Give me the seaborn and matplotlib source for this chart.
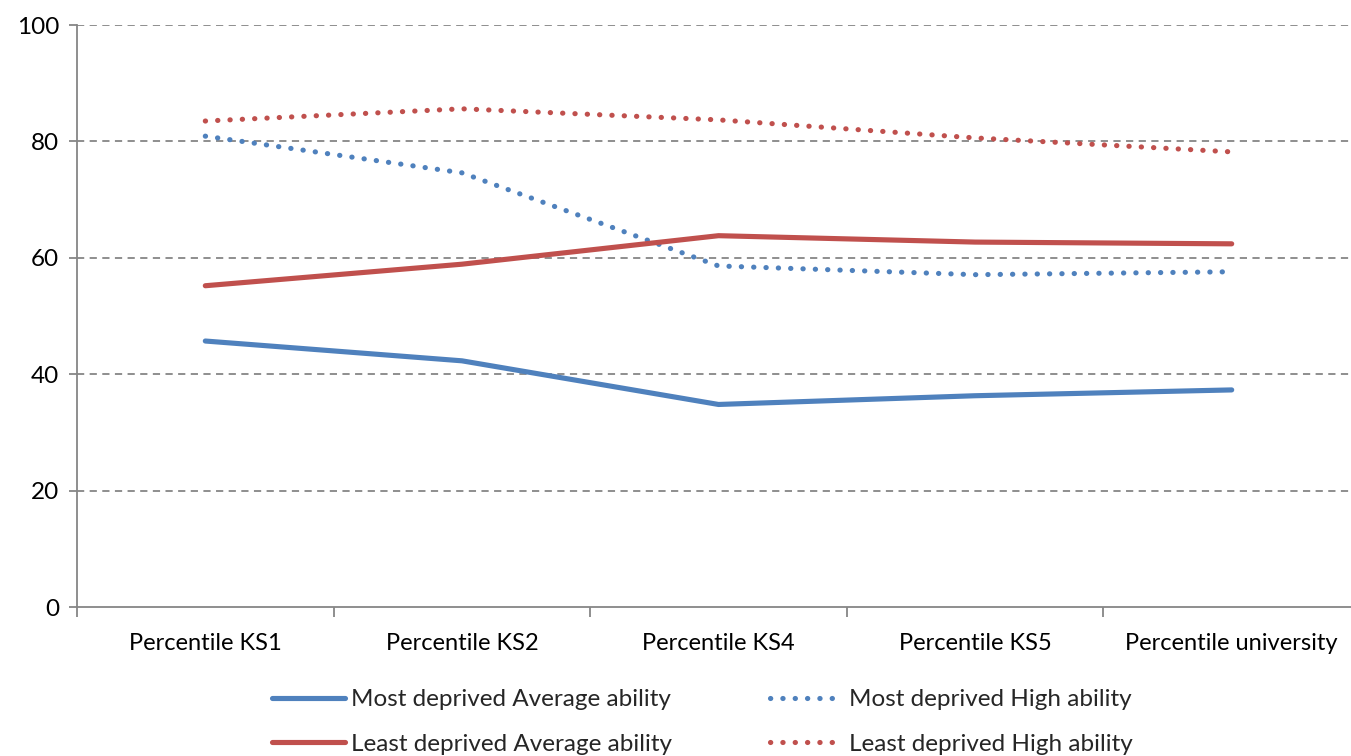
import matplotlib
matplotlib.use("Agg")
import matplotlib.pyplot as plt
import pandas as pd
import seaborn as sns

categories = ["Percentile KS1", "Percentile KS2", "Percentile KS4",
              "Percentile KS5", "Percentile university"]

most_avg = [45.7, 42.3, 34.8, 36.3, 37.3]
least_avg = [55.2, 58.9, 63.8, 62.7, 62.4]
most_high = [80.9, 74.6, 58.6, 57.1, 57.6]
least_high = [83.5, 85.6, 83.7, 80.6, 78.2]

series_names = ["Most deprived Average ability", "Most deprived High ability",
                "Least deprived Average ability", "Least deprived High ability"]
series_values = [most_avg, most_high, least_avg, least_high]

BLUE = "#4F81BD"
RED = "#C0504D"
GRID = "#868686"
styles = {
    "Most deprived Average ability": (BLUE, "-"),
    "Most deprived High ability": (BLUE, (0, (0.05, 2.35))),
    "Least deprived Average ability": (RED, "-"),
    "Least deprived High ability": (RED, (0, (0.05, 2.35))),
}

sns.set_theme(style="white")
plt.rcParams["font.family"] = ["Lato", "DejaVu Sans"]

fig = plt.figure(figsize=(13.51, 7.56), dpi=100)
ax = fig.add_axes([77 / 1351, 1 - 607 / 756, (1360 - 77) / 1351, (607 - 25) / 756])

for name, vals in zip(series_names, series_values):
    df = pd.DataFrame({"x": list(range(len(categories))), "y": vals})
    color, ls = styles[name]
    sns.lineplot(data=df, x="x", y="y", ax=ax, color=color, linewidth=3.7,
                 label=name, legend=False)
    line = ax.lines[-1]
    line.set_linestyle(ls)
    line.set_solid_capstyle("round")
    line.set_dash_capstyle("round")

ax.set_xlim(-0.5, len(categories) - 0.5)
ax.set_ylim(0, 100)
ax.set_yticks([0, 20, 40, 60, 80, 100])
ax.set_xticks(range(len(categories)))
ax.set_xticklabels(categories)
ax.set_xticks([i - 0.5 for i in range(len(categories) + 1)], minor=True)
ax.set_xlabel("")
ax.set_ylabel("")

for y in [20, 40, 60, 80, 100]:
    ax.axhline(y, color=GRID, linewidth=1.3, linestyle=(0, (4, 3)), zorder=0)

for side in ["top", "right"]:
    ax.spines[side].set_visible(False)
for side in ["left", "bottom"]:
    ax.spines[side].set_color(GRID)
    ax.spines[side].set_linewidth(1.3)

ax.tick_params(axis="y", which="major", length=6, width=1.3, color=GRID,
               labelsize=17.5, pad=7, left=True, labelcolor="black")
ax.tick_params(axis="x", which="major", length=0, labelsize=17, pad=19,
               labelcolor="black")
ax.tick_params(axis="x", which="minor", length=7, width=1.3, color=GRID,
               bottom=True, direction="out")

handles, labels = ax.get_legend_handles_labels()
order = [0, 2, 1, 3]
leg = fig.legend([handles[i] for i in order], [labels[i] for i in order],
                 loc="upper left", bbox_to_anchor=(272 / 1351, 1 - 689 / 756),
                 ncol=2, frameon=False, fontsize=17.5, handlelength=3.0,
                 handletextpad=0.25, columnspacing=4.05, labelspacing=0.97,
                 borderpad=0, borderaxespad=0)

fig.savefig("out.png", dpi=100, facecolor="white")
